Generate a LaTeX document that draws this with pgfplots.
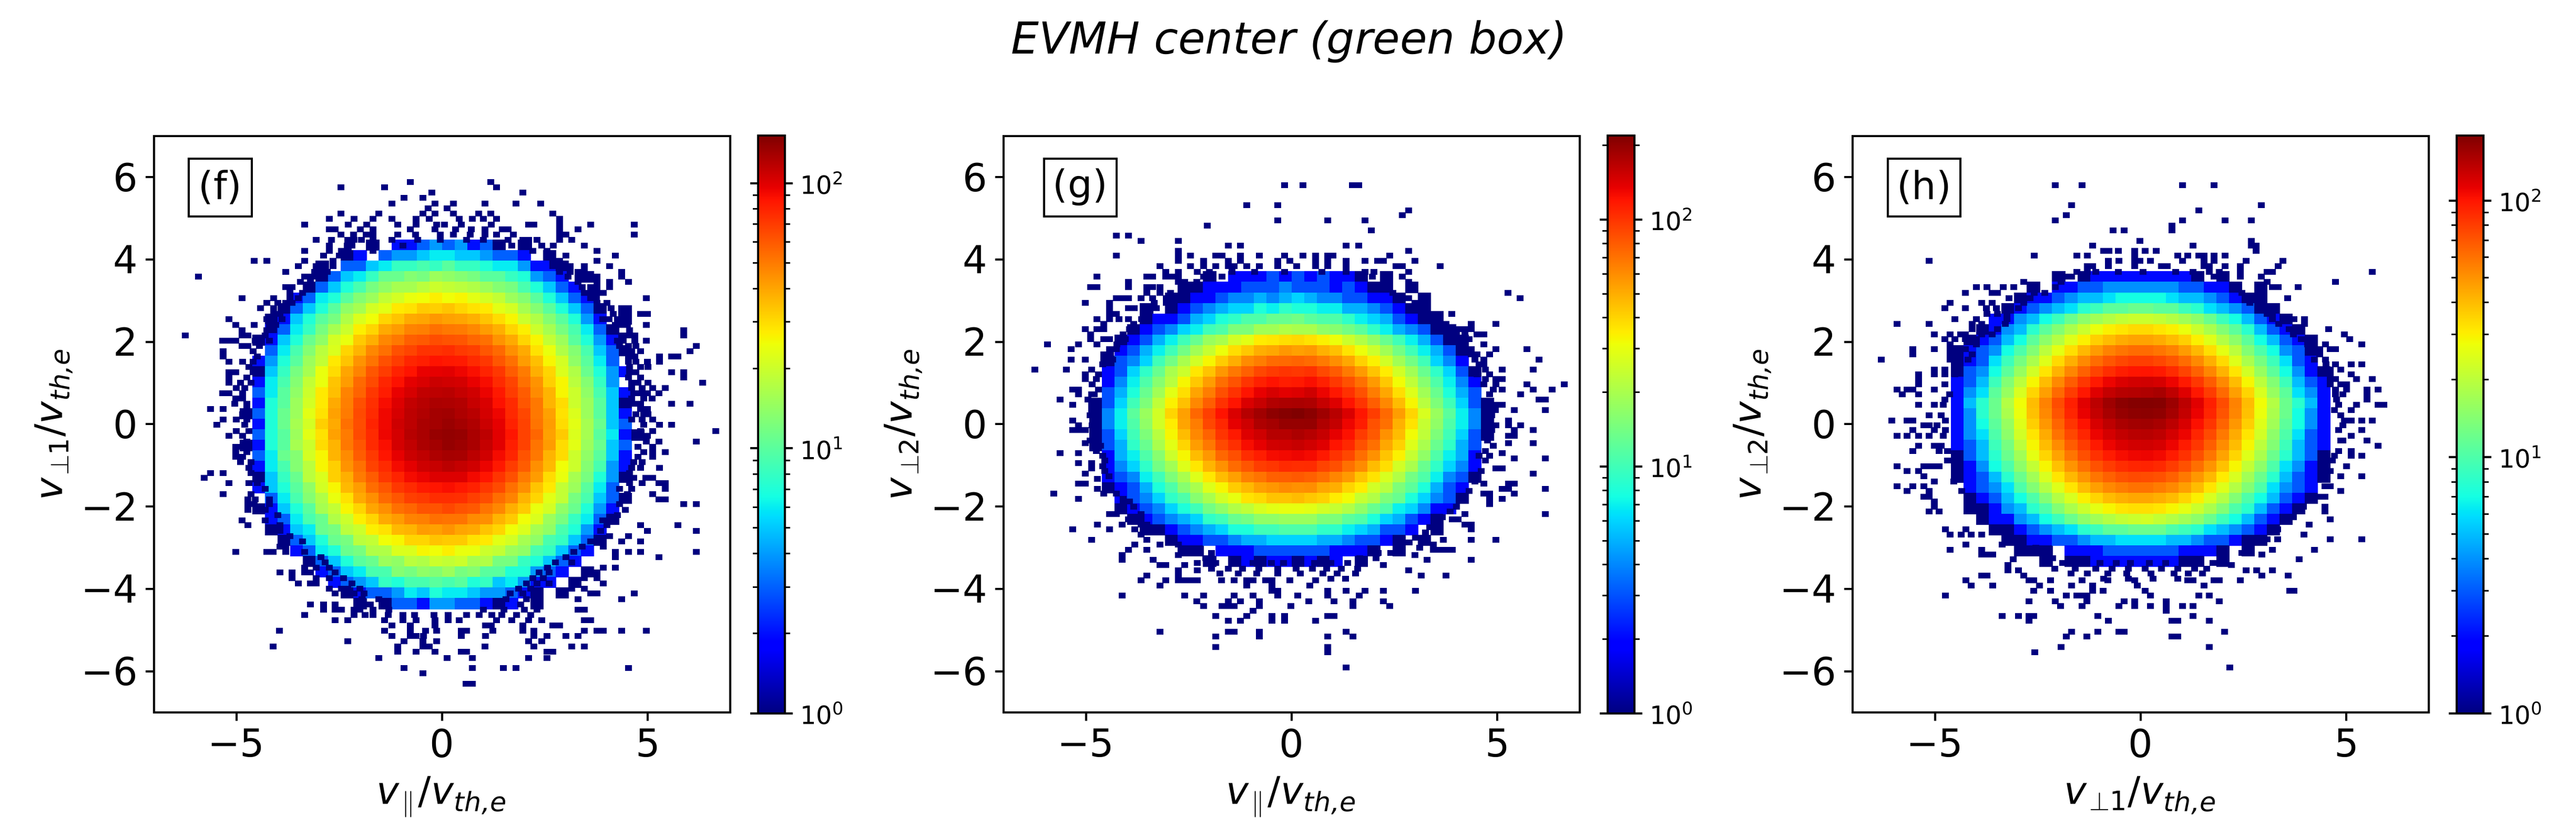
\documentclass[border=0pt]{standalone}
\usepackage{fontspec}
\setmainfont{DejaVu Sans}
\usepackage{pgfplots}
\usepackage{pgfplotstable}
\pgfplotsset{compat=1.18}

\pgfplotsset{
  colormap={mjet}{rgb(0pt)=(0,0,.5); rgb(110pt)=(0,0,1); rgb(125pt)=(0,0,1); rgb(340pt)=(0,.86,1); rgb(350pt)=(0,.9,.97); rgb(375pt)=(.08,1,.89); rgb(640pt)=(.935,1,.03); rgb(650pt)=(.97,.96,0); rgb(660pt)=(1,.926,0); rgb(890pt)=(1,.074,0); rgb(910pt)=(.91,0,0); rgb(1000pt)=(.5,0,0)},
  panel/.style={
    scale only axis, width=263.04pt, height=263.28pt,
    xmin=-7, xmax=7, ymin=-7, ymax=7,
    axis on top, colormap name=mjet,
    xtick={-5,0,5}, xticklabels={−5,0,5},
    ytick={-6,-4,-2,0,2,4,6}, yticklabels={−6,−4,−2,0,2,4,6},
    tick pos=left, tick align=outside, major tick length=3.84pt,
    tick style={black,line width=.96pt},
    axis line style={line width=.96pt},
    tick label style={font=\fontsize{17.6}{20}\selectfont},
    label style={font=\fontsize{17.4}{20}\selectfont},
    every axis x label/.append style={yshift=-1.7pt},
    every axis y label/.append style={yshift=-3pt},
    point meta min=0,
    colorbar,
    colorbar shift/.style={xshift=12.2pt},
  },
  cbar/.style={colorbar style={
    width=12.2pt, height=264pt, yshift=.3pt,
    ytick={0,1,2}, yticklabels={10\textsuperscript{0},10\textsuperscript{1},10\textsuperscript{2}},
    minor ytick={.301,.477,.602,.699,.778,.845,.903,.954,1.301,1.477,1.602,1.699,1.778,1.845,1.903,1.954,2.301},
    tick align=outside, major tick length=3.6pt, minor tick length=2.4pt,
    tick style={black,line width=.96pt},
    minor tick style={black,line width=.72pt},
    axis line style={line width=.96pt},
    yticklabel style={font=\fontsize{11.5}{13}\selectfont},
  }},
  body/.style={scatter, only marks, mark=square*, mark size=2.43pt, scatter src=explicit,
    mark options={xscale=1.2},
    scatter/use mapped color={draw=mapped color,fill=mapped color,line width=.05pt}},
  speck/.style={scatter, only marks, mark=square*, mark size=1.2pt, point meta=0,
    mark options={xscale=1.2},
    scatter/use mapped color={draw=mapped color,fill=mapped color,line width=.05pt}},
}
\newcommand\bodyplot[1]{\pgfplotsinvokeforeach{1,...,32}{%
  \addplot[body] table[x expr={\thisrowno{##1}>0 ? -4.76+0.307*(##1-1) : nan}, y index=0,
    meta expr={log10(max(\thisrowno{##1},1))}] {#1};}}
\newcommand\tagbox[3]{\node[draw=black,line width=.96pt,minimum width=#3,minimum height=26.4pt,inner sep=0pt,
  font=\fontsize{17.6}{20}\selectfont] at (rel axis cs:#2,.911) {#1};}
\newcommand\vpar{\textit{v}\hspace{1pt}\textsubscript{$\parallel$}\hspace{1pt}/\textit{v}\textsubscript{\itshape th,e}}
\newcommand\vperp[1]{\textit{v}\hspace{1pt}\textsubscript{$\perp$#1}/\textit{v}\textsubscript{\itshape th,e}}

% counts per bin on the main body, rows: y, then 32 columns x=-4.76...4.76
\pgfplotstableread[header=false]{
4.352 0 0 0 0 0 0 0 0 0 0 1 0 2 2 3 4 3 4 2 3 1 0 1 0 0 0 0 0 0 0 0 0
4.096 0 0 0 0 0 0 0 0 1 2 0 3 4 4 5 6 6 5 5 4 3 3 2 0 1 0 0 0 0 0 0 0
3.84 0 0 0 0 0 0 1 0 3 3 5 6 8 8 9 8 10 8 8 7 6 6 4 2 2 1 0 0 0 0 0 0
3.584 0 0 0 0 0 0 1 3 5 6 8 11 11 13 12 15 14 13 12 10 10 8 7 4 3 2 0 1 0 0 0 0
3.328 0 0 0 0 0 1 3 5 7 9 12 14 16 16 18 20 19 18 17 15 13 12 9 7 5 3 2 0 0 0 0 0
3.072 0 0 0 0 2 3 6 7 10 13 15 19 21 24 25 27 25 26 23 21 19 15 13 10 7 5 3 2 0 0 0 0
2.816 0 0 0 1 3 5 7 10 14 16 21 23 28 29 33 32 34 31 29 28 23 21 16 13 10 7 5 3 1 0 0 0
2.56 0 0 1 2 5 7 10 12 17 22 25 31 34 39 40 43 41 40 38 34 30 26 20 17 13 10 7 4 2 0 1 0
2.304 0 0 2 3 6 8 12 16 20 27 31 39 42 48 49 53 51 50 47 42 38 31 27 20 16 12 9 6 3 1 0 0
2.048 0 1 2 5 7 11 14 21 24 33 38 47 51 58 60 64 62 61 56 53 44 39 31 26 19 15 10 7 4 2 0 0
1.792 0 0 3 6 9 13 18 22 31 37 47 53 63 67 74 74 76 71 69 61 55 45 39 29 24 17 13 9 5 3 1 0
1.536 0 2 4 7 10 15 19 28 34 44 52 63 70 79 82 87 85 84 77 72 61 53 42 35 26 21 14 10 6 3 0 0
1.28 0 1 5 8 12 16 24 30 40 48 61 70 81 87 96 97 99 94 89 80 72 59 50 38 31 22 17 11 7 4 2 0
1.024 0 2 6 9 13 19 24 34 42 55 65 79 88 98 103 109 107 105 96 90 77 67 53 44 32 26 18 13 8 4 0 0
.768 0 3 6 10 14 20 28 35 48 57 72 83 96 104 114 116 118 112 107 95 85 70 59 46 37 26 20 14 9 5 2 0
.512 0 2 7 10 15 21 28 39 49 63 75 90 101 113 119 125 124 121 111 103 88 77 61 51 37 30 20 15 10 5 1 0
.256 1 3 7 11 15 23 29 41 50 65 77 93 104 116 122 129 131 124 118 105 94 78 66 51 41 29 22 15 10 5 2 0
0 0 2 7 11 16 21 32 39 53 64 80 93 108 116 126 129 135 129 123 109 97 81 68 52 42 30 23 16 11 5 3 0
-.256 0 3 7 10 15 23 29 41 50 65 77 94 105 119 126 136 139 137 126 116 99 86 68 56 41 33 22 16 10 6 2 1
-.512 1 2 7 10 16 20 30 37 51 61 77 89 105 114 125 130 138 133 126 112 99 82 68 52 42 30 23 15 11 5 3 0
-.768 0 3 6 11 13 21 26 37 46 59 71 86 97 109 115 124 128 127 117 107 91 79 62 51 37 30 20 14 10 5 2 0
-1.024 0 2 6 9 13 18 26 32 44 53 68 77 91 98 108 111 117 112 107 95 85 70 59 45 36 25 20 13 9 4 2 0
-1.28 0 1 5 8 11 18 22 32 38 50 59 72 80 91 95 101 101 101 92 86 73 63 50 42 30 24 16 12 7 4 1 0
-1.536 0 2 5 7 10 14 21 26 36 42 54 61 72 77 84 86 89 85 81 72 65 53 45 34 28 19 15 10 6 3 0 0
-1.792 0 0 3 6 9 13 17 24 29 39 45 55 61 69 71 76 76 75 69 64 54 48 37 31 23 19 12 9 5 3 1 0
-2.048 0 1 2 5 7 10 16 19 26 31 40 45 53 56 62 62 66 62 60 52 47 38 33 24 21 14 11 7 4 2 0 0
-2.304 0 0 2 3 6 9 11 17 20 27 31 39 42 48 49 53 52 52 46 45 37 33 25 22 15 12 8 6 3 1 0 0
-2.56 0 0 1 2 5 6 11 12 18 20 27 29 36 37 42 41 44 40 39 34 31 25 22 16 14 9 7 4 2 0 0 0
-2.816 0 0 0 1 3 5 7 11 12 18 19 25 26 31 31 34 33 33 29 28 23 21 16 14 9 8 5 3 1 0 0 0
-3.072 0 0 0 0 2 3 6 7 11 12 17 17 22 22 26 25 27 24 24 20 19 15 14 9 8 5 3 2 0 0 0 0
-3.328 0 0 0 0 0 1 3 5 7 10 11 15 14 18 17 20 19 20 16 17 12 12 8 7 5 3 2 0 0 0 0 0
-3.584 0 0 0 0 0 0 2 3 5 6 9 9 13 12 14 13 15 12 13 10 10 7 7 4 3 2 0 1 0 0 0 0
-3.84 0 0 0 0 0 0 0 2 3 4 5 8 7 9 9 10 9 10 7 8 5 6 4 2 2 0 1 0 0 0 0 0
-4.096 0 0 0 0 0 0 0 0 1 2 3 3 4 6 5 7 6 6 5 4 4 3 2 1 0 1 0 0 0 0 0 0
-4.352 0 0 0 0 0 0 0 0 0 1 0 1 3 3 2 4 4 3 3 2 1 2 0 1 0 0 0 0 0 0 0 0
}\tabf

\pgfplotstableread[header=false]{
3.584 0 0 0 0 0 0 0 0 0 1 0 2 2 2 3 2 3 2 3 2 2 1 0 1 0 0 0 0 0 0 0 0
3.328 0 0 0 0 0 0 0 1 1 2 2 2 3 3 3 4 3 3 3 2 3 2 1 1 0 1 0 0 0 0 0 0
3.072 0 0 0 0 0 0 1 1 2 2 3 4 4 5 4 5 6 5 4 4 3 3 2 2 1 0 1 0 0 0 0 0
2.816 0 0 0 0 1 0 1 2 3 4 5 6 6 8 7 9 8 8 7 7 5 5 4 3 2 1 1 0 0 0 0 0
2.56 0 0 0 0 1 2 2 3 5 6 8 9 11 11 13 13 14 12 11 11 9 7 6 5 3 2 1 1 0 0 0 0
2.304 0 0 0 1 2 3 4 6 7 10 11 15 15 19 19 21 20 20 17 16 14 12 9 7 5 4 3 1 1 0 0 0
2.048 0 0 1 2 3 5 7 10 13 18 20 26 29 35 36 38 39 37 34 31 25 21 17 13 10 7 5 3 1 1 0 0
1.792 0 0 2 3 5 7 10 14 19 24 31 38 43 50 52 57 54 56 49 45 37 31 25 19 14 10 7 5 3 1 0 0
1.536 0 1 3 4 6 10 14 20 26 33 42 50 61 66 73 74 76 73 67 60 52 41 34 26 19 14 10 6 4 2 0 0
1.28 0 2 3 6 9 13 20 25 36 44 57 68 78 90 96 100 98 101 89 80 67 56 44 35 26 19 13 9 6 3 1 0
1.024 0 2 4 7 11 16 22 33 43 55 72 84 100 112 121 114 117 124 112 98 85 71 56 43 32 23 16 11 7 4 2 0
.768 0 3 5 8 13 19 29 38 53 66 86 101 120 135 146 138 142 151 132 118 102 85 66 52 38 28 19 13 8 5 3 0
.512 1 3 6 10 15 23 34 45 62 79 102 120 144 157 173 178 180 176 158 141 121 100 79 62 46 33 22 15 10 6 3 1
.256 1 4 7 12 18 26 40 54 75 94 121 144 170 187 205 212 219 207 189 168 144 119 95 74 55 40 27 18 12 7 4 1
0 1 4 7 11 17 26 35 53 66 90 108 136 152 176 184 197 197 198 175 159 131 114 85 71 49 37 24 17 11 7 4 1
-.256 1 3 6 10 15 22 33 46 62 77 100 117 141 152 170 170 178 170 158 136 122 96 81 59 46 32 23 15 10 6 3 1
-.512 1 3 5 9 13 20 29 40 55 68 89 103 125 136 150 152 157 150 140 120 107 85 71 52 41 28 20 13 9 5 3 0
-.768 0 2 5 7 11 16 25 33 46 57 75 86 105 114 126 128 131 127 117 101 90 72 59 44 34 24 17 11 7 5 2 0
-1.024 0 2 4 6 9 14 19 28 36 48 59 73 83 95 99 106 104 105 92 86 71 61 46 38 26 20 13 9 6 4 2 0
-1.28 0 2 3 4 7 10 15 20 28 36 46 54 65 70 78 79 81 78 72 63 56 44 37 27 21 14 11 7 4 3 1 0
-1.536 0 1 2 3 5 8 11 16 20 28 33 42 47 54 57 61 59 60 52 50 40 35 26 22 15 12 8 5 3 2 0 0
-1.792 0 0 2 3 4 6 9 11 16 20 26 30 37 39 44 44 46 43 41 35 32 24 21 15 13 8 6 4 3 1 0 0
-2.048 0 0 1 2 3 4 6 8 10 14 17 21 23 27 29 30 30 29 26 24 21 17 13 11 7 6 4 2 2 0 0 0
-2.304 0 0 0 1 2 3 4 5 6 9 10 13 14 17 17 18 18 18 15 15 12 11 8 6 5 3 2 1 0 0 0 0
-2.56 0 0 0 0 1 1 2 3 4 5 6 8 8 10 10 11 11 11 9 9 7 6 5 3 3 2 0 1 0 0 0 0
-2.816 0 0 0 0 0 0 1 2 2 3 3 4 5 5 6 6 6 6 5 5 4 3 3 2 1 0 1 0 0 0 0 0
-3.072 0 0 0 0 0 0 0 1 1 0 2 2 2 3 3 3 3 3 3 2 2 2 1 0 1 0 0 0 0 0 0 0
-3.328 0 0 0 0 0 0 0 0 0 1 0 1 2 1 2 2 1 2 1 2 0 1 0 0 0 0 0 0 0 0 0 0
}\tabg

\pgfplotstableread[header=false]{
3.584 0 0 0 0 0 0 0 0 0 1 0 1 2 2 2 2 2 2 2 2 1 0 1 0 0 0 0 0 0 0 0 0
3.328 0 0 0 0 0 0 0 1 0 2 2 3 3 4 4 4 4 4 4 3 3 2 2 1 0 1 0 0 0 0 0 0
3.072 0 0 0 0 0 0 1 2 2 3 4 5 5 6 7 7 7 7 6 5 5 4 3 2 1 1 0 0 0 0 0 0
2.816 0 0 0 0 0 1 2 3 4 5 6 8 9 11 11 12 12 11 11 9 8 6 5 4 3 1 1 0 0 0 0 0
2.56 0 0 0 0 2 2 4 5 7 9 12 15 17 19 21 22 22 21 19 17 15 12 9 7 5 3 2 1 0 0 0 0
2.304 0 0 0 1 2 4 5 8 11 14 18 22 27 30 32 34 34 32 30 27 22 18 14 11 8 5 3 2 1 0 0 0
2.048 0 0 1 2 3 5 7 11 15 19 25 30 36 40 44 46 46 44 40 36 30 25 19 15 11 7 5 3 2 1 0 0
1.792 0 1 2 3 4 7 10 14 20 26 33 41 48 55 59 62 62 59 55 48 41 33 26 20 14 10 7 4 3 1 0 0
1.536 0 1 2 3 6 9 13 18 25 34 43 53 62 70 76 80 80 76 70 62 53 43 34 25 18 13 9 6 3 2 0 0
1.28 0 1 3 4 7 11 16 23 32 42 54 66 78 88 96 100 101 98 89 78 66 54 42 32 23 16 11 7 4 2 1 0
1.024 0 2 3 5 9 14 20 29 40 53 68 83 98 110 119 124 125 122 110 98 83 68 53 40 29 20 14 9 5 3 2 0
.768 0 2 4 6 11 16 24 35 47 63 81 99 117 132 140 142 145 150 135 117 99 81 63 47 35 24 16 11 6 4 2 0
.512 0 2 5 8 12 19 28 40 55 74 95 116 137 156 170 175 176 174 158 137 116 95 74 55 40 28 19 12 8 5 2 0
.256 0 2 4 8 12 18 27 39 53 71 92 112 132 150 162 168 170 167 152 132 111 92 71 54 39 27 18 12 7 4 2 0
0 0 2 4 7 11 16 25 36 49 65 84 102 121 136 148 153 155 150 137 121 103 84 65 49 36 25 17 11 7 4 2 0
-.256 0 2 4 6 10 15 23 32 44 60 76 92 110 123 133 139 140 136 123 110 92 75 58 44 32 23 15 10 6 3 2 0
-.512 0 2 3 5 9 13 20 29 40 52 68 82 98 110 119 124 125 122 110 97 83 67 52 40 29 20 14 9 5 3 2 0
-.768 0 1 3 5 8 12 17 26 35 46 59 73 86 97 105 109 110 107 97 86 73 59 46 35 25 18 12 8 5 3 1 0
-1.024 0 1 2 4 7 10 15 21 29 39 50 61 72 81 88 92 93 90 81 72 61 50 39 29 21 15 10 6 4 2 1 0
-1.28 0 1 2 3 5 8 12 17 24 32 41 50 59 66 72 75 74 72 66 58 49 41 31 24 17 12 8 5 3 2 1 0
-1.536 0 0 2 3 4 6 10 14 19 25 32 40 47 53 57 60 60 57 53 47 40 32 25 19 14 10 6 4 3 2 0 0
-1.792 0 0 1 2 3 5 7 10 14 19 24 30 35 40 43 45 45 43 40 35 30 24 19 14 10 7 5 3 2 1 0 0
-2.048 0 0 1 1 2 4 5 8 10 14 18 22 26 29 32 33 33 32 29 26 22 18 14 10 8 5 3 2 1 0 0 0
-2.304 0 0 0 1 2 2 4 5 7 9 12 15 17 19 21 22 23 21 19 17 15 12 9 7 5 3 2 1 0 0 0 0
-2.56 0 0 0 0 1 1 2 3 4 5 6 8 9 11 11 12 12 12 10 9 8 6 5 4 3 2 1 0 0 0 0 0
-2.816 0 0 0 0 0 1 1 2 2 3 3 4 5 5 6 6 6 6 5 5 4 3 3 2 1 1 0 0 0 0 0 0
-3.072 0 0 0 0 0 0 1 1 1 0 2 2 2 3 3 3 3 3 3 2 2 2 1 0 1 0 0 0 0 0 0 0
-3.328 0 0 0 0 0 0 0 0 1 0 1 1 2 2 2 2 2 2 2 1 1 0 1 0 0 0 0 0 0 0 0 0
}\tabh

\pgfplotstableread{
-.78 5.89
1.18 5.89
-2.46 5.76
-1.40 5.76
1.32 5.76
-.25 5.63
1.95 5.63
-.93 5.50
-.47 5.50
-1.23 5.37
-.18 5.37
.27 5.37
1.03 5.37
1.79 5.37
2.39 5.37
-.34 5.25
.12 5.25
-2.46 5.12
-1.54 5.12
-.47 5.12
-.18 5.12
.27 5.12
.88 5.12
1.18 5.12
2.69 5.12
-2.75 4.99
-2.15 4.99
-1.69 4.99
-1.23 4.99
-.64 4.99
-.32 4.99
.41 4.99
.73 4.99
1.0 4.99
1.32 4.99
2.85 4.99
-3.34 4.86
-2.29 4.86
-1.84 4.86
-1.09 4.86
-.64 4.86
-.14 4.86
.05 4.86
.46 4.86
1.19 4.86
2.10 4.86
2.23 4.86
2.85 4.86
3.61 4.86
4.67 4.86
-2.75 4.74
-2.6 4.74
-1.99 4.74
-1.69 4.74
-.78 4.74
-.18 4.74
.32 4.74
.7 4.74
1.03 4.74
1.46 4.74
1.6 4.74
2.85 4.74
3.3 4.74
-2.46 4.61
-2.16 4.61
-1.85 4.61
-1.69 4.61
-1.09 4.61
-.65 4.61
-.05 4.61
.27 4.61
.68 4.61
1.03 4.61
1.32 4.61
1.73 4.61
2.85 4.61
3.0 4.61
4.67 4.61
-3.06 4.48
-2.69 4.48
-2.3 4.48
-2.15 4.48
-1.96 4.48
-1.69 4.48
-1.23 4.48
-.6 4.48
-.05 4.48
.59 4.48
1.0 4.48
1.6 4.48
1.96 4.48
2.1 4.48
2.3 4.48
2.85 4.48
3.15 4.48
-2.75 4.35
-2.31 4.35
-2.2 4.35
-1.69 4.35
-.96 4.35
1.69 4.35
2.10 4.35
2.42 4.35
2.7 4.35
3.45 4.35
-3.34 4.22
-2.75 4.22
-2.45 4.22
-2.29 4.22
-1.69 4.22
2.2 4.22
2.54 4.22
3.76 4.22
-2.89 4.10
-2.5 4.10
-2.35 4.10
2.55 4.10
3.0 4.10
4.21 4.10
-4.57 3.97
-4.27 3.97
-3.34 3.97
-2.65 3.97
2.69 3.97
2.85 3.97
3.76 3.97
-3.5 3.84
-3.06 3.84
-2.65 3.84
2.69 3.84
2.85 3.84
3.1 3.84
3.45 3.84
4.06 3.84
-3.81 3.71
-3.1 3.71
-2.8 3.71
2.85 3.71
3.1 3.71
3.3 3.71
3.45 3.71
4.36 3.71
-5.93 3.59
-3.34 3.59
-3.2 3.59
-3.05 3.59
3.05 3.59
3.3 3.59
3.76 3.59
4.36 3.59
-3.45 3.46
-3.2 3.46
3.3 3.46
3.76 3.46
4.06 3.46
4.52 3.46
-3.81 3.33
-3.65 3.33
-3.3 3.33
3.4 3.33
3.6 3.33
3.76 3.33
4.06 3.33
-3.7 3.20
-3.4 3.20
3.45 3.20
3.61 3.20
3.76 3.20
3.91 3.20
-4.87 3.07
-4.1 3.07
-3.7 3.07
-3.5 3.07
3.61 3.07
3.75 3.07
4.96 3.07
-4.27 2.95
-4.0 2.95
-3.81 2.95
-3.65 2.95
3.76 2.95
4.0 2.95
-4.42 2.82
-4.1 2.82
-3.81 2.82
3.91 2.82
4.1 2.82
4.36 2.82
4.52 2.82
-4.1 2.69
-3.95 2.69
4.15 2.69
4.36 2.69
4.52 2.69
4.82 2.69
4.98 2.69
-5.18 2.56
-4.27 2.56
-4.1 2.56
-3.9 2.56
3.9 2.56
4.05 2.56
4.25 2.56
-5.02 2.42
-4.57 2.42
-4.2 2.42
-4.05 2.42
4.21 2.42
4.35 2.42
4.5 2.42
4.96 2.42
-4.87 2.29
-4.27 2.29
-4.1 2.29
4.1 2.29
4.55 2.29
5.87 2.29
-6.24 2.16
-4.87 2.16
-4.72 2.16
-4.3 2.16
4.36 2.16
4.52 2.16
4.68 2.16
5.87 2.16
-5.34 2.03
-5.18 2.03
-5.02 2.03
-4.55 2.03
-4.2 2.03
4.25 2.03
4.4 2.03
4.68 2.03
4.96 2.03
-4.87 1.91
-4.72 1.91
-4.45 1.91
4.3 1.91
4.52 1.91
4.7 1.91
6.17 1.91
-5.32 1.78
-4.6 1.78
4.45 1.78
4.6 1.78
4.82 1.78
6.02 1.78
-5.32 1.65
-4.5 1.65
4.52 1.65
4.68 1.65
5.28 1.65
5.57 1.65
5.72 1.65
-5.18 1.52
-4.85 1.52
-4.6 1.52
4.52 1.52
4.7 1.52
4.98 1.52
5.28 1.52
-4.7 1.40
4.55 1.40
4.82 1.40
5.0 1.40
-5.18 1.27
-5.02 1.27
-4.6 1.27
4.55 1.27
4.7 1.27
5.57 1.27
5.87 1.27
-5.18 1.14
-4.75 1.14
4.52 1.14
4.82 1.14
5.87 1.14
-5.18 1.01
-4.9 1.01
-4.65 1.01
4.6 1.01
4.75 1.01
5.0 1.01
6.33 1.01
-5.0 .89
-4.8 .89
4.6 .89
4.85 .89
5.11 .89
5.42 .89
-5.34 .76
-5.18 .76
-4.85 .76
4.65 .76
4.82 .76
4.98 .76
5.26 .76
-5.02 .63
-4.85 .63
4.6 .63
4.9 .63
5.1 .63
-5.05 .50
-4.75 .50
4.65 .50
4.82 .50
5.57 .50
6.02 .50
-5.63 .37
-5.32 .37
-4.75 .37
4.82 .37
4.98 .37
-4.85 .25
-4.7 .25
4.7 .25
4.9 .25
5.0 .25
-5.32 .12
-5.0 .12
-4.75 .12
4.6 .12
4.85 .12
5.11 .12
-5.48 -.01
-4.8 -.01
4.9 -.01
5.28 -.01
5.57 -.01
6.64 -.16
-5.0 -.16
-4.7 -.16
4.82 -.16
5.11 -.16
-5.18 -.28
-4.85 -.28
4.75 -.28
4.98 -.28
-4.75 -.41
4.96 -.41
5.26 -.41
6.17 -.41
-5.02 -.54
-4.85 -.54
4.75 -.54
5.11 -.54
-5.02 -.67
-4.75 -.67
4.9 -.67
5.11 -.67
5.42 -.67
-5.02 -.79
-4.85 -.79
4.75 -.79
5.11 -.79
-4.9 -.92
-4.65 -.92
4.65 -.92
4.85 -.92
-4.7 -1.05
4.6 -1.05
4.82 -1.05
5.28 -1.05
-5.63 -1.18
-5.32 -1.18
-4.65 -1.18
4.55 -1.18
-5.78 -1.30
-4.5 -1.30
4.65 -1.30
4.95 -1.30
5.11 -1.30
-5.18 -1.43
-4.7 -1.43
-4.5 -1.43
4.55 -1.43
4.85 -1.43
5.26 -1.43
5.42 -1.43
-4.3 -1.56
4.3 -1.56
4.6 -1.56
5.42 -1.56
-5.32 -1.69
-4.65 -1.69
4.5 -1.69
5.11 -1.69
-4.72 -1.82
-4.55 -1.82
-4.2 -1.82
4.45 -1.82
5.26 -1.82
5.42 -1.82
-4.72 -1.94
-4.57 -1.94
-4.2 -1.94
4.3 -1.94
5.87 -1.94
6.17 -1.94
-4.72 -2.07
-4.3 -2.07
4.45 -2.07
-4.0 -2.20
4.25 -2.20
-4.87 -2.33
-4.3 -2.33
3.9 -2.33
-4.72 -2.45
-3.95 -2.45
4.0 -2.45
4.82 -2.45
5.72 -2.45
-3.95 -2.58
3.85 -2.58
4.98 -2.58
6.17 -2.58
-3.7 -2.71
4.06 -2.71
4.52 -2.71
-3.4 -2.84
3.6 -2.84
4.36 -2.84
4.82 -2.84
-3.95 -2.97
-3.81 -2.97
3.4 -2.97
3.91 -2.97
-5.02 -3.09
-4.27 -3.09
-4.11 -3.09
-3.81 -3.09
-3.35 -3.09
3.2 -3.09
4.21 -3.09
4.52 -3.09
4.82 -3.09
6.17 -3.09
-2.95 -3.22
3.0 -3.22
4.21 -3.22
5.26 -3.22
-2.85 -3.35
2.75 -3.35
3.15 -3.35
-3.35 -3.48
-3.06 -3.48
-2.75 -3.48
2.55 -3.48
3.91 -3.48
4.21 -3.48
-3.95 -3.60
-3.65 -3.60
-3.35 -3.60
-3.2 -3.60
-2.6 -3.60
2.35 -3.60
2.6 -3.60
3.76 -3.60
-3.65 -3.73
-3.06 -3.73
-2.75 -3.73
-2.4 -3.73
2.2 -3.73
2.45 -3.73
3.45 -3.73
3.76 -3.73
-3.5 -3.86
-3.2 -3.86
-3.06 -3.86
-2.2 -3.86
2.05 -3.86
2.3 -3.86
2.6 -3.86
3.91 -3.86
-2.75 -3.99
-2.45 -3.99
-2.3 -3.99
-2.0 -3.99
1.85 -3.99
2.15 -3.99
3.15 -3.99
3.45 -3.99
-2.6 -4.11
-2.15 -4.11
-1.9 -4.11
1.65 -4.11
1.95 -4.11
2.25 -4.11
3.61 -4.11
3.76 -4.11
4.67 -4.11
-1.95 -4.24
-1.55 -4.24
1.55 -4.24
2.05 -4.24
3.3 -4.24
4.36 -4.24
-3.2 -4.37
-2.89 -4.37
-2.6 -4.37
-1.75 -4.37
-1.4 -4.37
1.4 -4.37
1.9 -4.37
2.25 -4.37
-2.89 -4.50
-2.6 -4.50
-2.45 -4.50
-2.15 -4.50
-2.0 -4.50
-1.69 -4.50
-1.3 -4.50
1.0 -4.50
1.5 -4.50
2.0 -4.50
2.3 -4.50
3.3 -4.50
3.45 -4.50
-3.35 -4.63
-2.15 -4.63
-1.87 -4.63
-1.69 -4.63
-1.32 -4.63
-.96 -4.63
-.68 -4.63
-.2 -4.63
.14 -4.63
.59 -4.63
.9 -4.63
1.2 -4.63
1.45 -4.63
1.8 -4.63
2.15 -4.63
-2.6 -4.75
-2.3 -4.75
-1.4 -4.75
-.96 -4.75
-.64 -4.75
-.18 -4.75
.14 -4.75
.41 -4.75
1.32 -4.75
1.69 -4.75
2.1 -4.75
2.42 -4.75
3.45 -4.75
3.61 -4.75
-1.23 -4.88
-.78 -4.88
-.18 -4.88
1.05 -4.88
1.19 -4.88
1.96 -4.88
2.69 -4.88
2.85 -4.88
-3.96 -5.01
-1.4 -5.01
-.78 -5.01
-.41 -5.01
-.14 -5.01
.46 -5.01
.59 -5.01
1.23 -5.01
1.96 -5.01
2.23 -5.01
3.45 -5.01
3.76 -5.01
3.91 -5.01
4.36 -5.01
4.96 -5.01
-1.23 -5.14
-.78 -5.14
-.64 -5.14
-.46 -5.14
.46 -5.14
1.05 -5.14
2.23 -5.14
2.54 -5.14
3.0 -5.14
3.3 -5.14
-2.3 -5.26
-.93 -5.26
-.47 -5.26
-.14 -5.26
2.1 -5.26
2.42 -5.26
-4.11 -5.39
-1.09 -5.39
-.47 -5.39
-.32 -5.39
1.03 -5.39
2.23 -5.39
3.15 -5.39
3.45 -5.39
-1.09 -5.52
-.64 -5.52
-.18 -5.52
.46 -5.52
.59 -5.52
2.54 -5.52
2.69 -5.52
-1.54 -5.67
.12 -5.67
.73 -5.67
2.1 -5.67
2.54 -5.67
-.93 -5.92
.73 -5.92
1.48 -5.92
1.79 -5.92
4.52 -5.92
-.47 -6.05
.58 -6.30
.73 -6.30
}\specf

\pgfplotstableread{
-.18 5.81
.27 5.81
1.47 5.81
1.62 5.81
-1.10 5.33
-.34 5.33
2.84 5.20
2.69 5.08
-.34 4.95
.87 4.95
1.78 4.95
-2.05 4.83
1.93 4.71
-4.27 4.58
-3.97 4.58
-3.67 4.46
-2.76 4.46
-1.55 4.34
-1.25 4.34
1.32 4.34
1.62 4.34
-2.76 4.22
2.84 4.22
-4.27 4.10
-2.76 4.10
-2.46 4.10
-1.85 4.10
-1.70 4.10
-1.25 4.10
-.79 4.10
-.18 4.10
.27 4.10
.57 4.10
.87 4.10
1.0 4.10
2.38 4.10
-2.76 3.97
-2.15 3.97
-1.55 3.97
-1.25 3.97
-.34 3.97
-.05 3.97
.57 3.97
.87 3.97
1.32 3.97
1.78 3.97
2.08 3.97
2.23 3.97
2.99 3.97
-3.21 3.84
-2.46 3.84
-2.15 3.84
-1.85 3.84
-1.55 3.84
-1.40 3.84
-1.10 3.84
-.79 3.84
-.34 3.84
.11 3.84
.57 3.84
.87 3.84
1.32 3.84
2.53 3.84
2.69 3.84
3.60 3.84
-3.06 3.71
-2.76 3.71
-2.30 3.71
-2.0 3.71
-1.46 3.71
-.91 3.71
-.18 3.71
.73 3.71
1.32 3.71
1.78 3.71
2.0 3.71
2.84 3.71
-4.74 3.59
-3.52 3.59
-3.39 3.59
-3.06 3.59
-2.92 3.59
-2.76 3.59
-2.15 3.59
-1.7 3.59
1.95 3.59
2.38 3.59
2.69 3.59
-3.97 3.46
-2.76 3.46
-2.6 3.46
-2.31 3.46
2.38 3.46
2.84 3.46
-4.89 3.33
-4.74 3.33
-3.97 3.33
-3.52 3.33
-3.39 3.33
-3.2 3.33
-2.65 3.33
2.38 3.33
2.84 3.33
-3.52 3.20
-3.2 3.20
-2.95 3.20
2.45 3.20
5.25 3.20
-4.27 3.07
-4.11 3.07
-3.97 3.07
-3.67 3.07
-3.39 3.07
-3.05 3.07
2.84 3.07
3.14 3.07
5.55 3.07
-5.02 2.95
-4.43 2.95
-3.35 2.95
-3.05 2.95
2.99 2.95
3.15 2.95
-4.43 2.82
-3.97 2.82
-3.83 2.82
-3.52 2.82
-3.3 2.82
3.14 2.82
3.29 2.82
-4.43 2.69
-4.27 2.69
-3.6 2.69
3.44 2.69
3.60 2.69
3.89 2.69
-4.74 2.56
-4.43 2.56
-4.2 2.56
-3.97 2.56
-3.65 2.56
3.5 2.56
-4.57 2.44
-3.85 2.44
3.74 2.44
4.36 2.44
4.96 2.44
-5.02 2.32
-4.74 2.32
-4.57 2.32
-3.95 2.32
3.85 2.32
4.04 2.32
4.2 2.32
4.36 2.32
-4.89 2.19
-4.1 2.19
4.0 2.19
4.2 2.19
4.5 2.19
4.66 2.19
-4.89 2.07
-4.57 2.07
-4.43 2.07
-4.05 2.07
3.89 2.07
4.04 2.07
4.3 2.07
-5.94 1.95
-5.19 1.95
-4.74 1.95
-4.25 1.95
4.2 1.95
4.66 1.95
-5.37 1.83
-4.43 1.83
-4.27 1.83
4.36 1.83
4.96 1.83
5.71 1.83
-4.57 1.70
-4.4 1.70
4.36 1.70
4.5 1.70
4.8 1.70
-5.37 1.58
-5.02 1.58
-4.57 1.58
-4.35 1.58
4.45 1.58
4.66 1.58
6.0 1.58
-4.6 1.46
4.55 1.46
4.66 1.46
-6.24 1.33
-5.48 1.33
-4.87 1.33
4.7 1.33
5.11 1.33
5.86 1.33
-5.02 1.22
-4.7 1.22
4.5 1.22
4.8 1.22
-5.02 1.10
-4.75 1.10
4.7 1.10
4.96 1.10
5.11 1.10
-4.85 .98
4.66 .98
4.96 .98
5.71 .98
6.62 .98
-5.33 .85
-5.19 .85
-4.7 .85
4.9 .85
5.11 .85
5.86 .85
6.32 .85
-5.19 .73
-4.87 .73
-4.8 .73
4.8 .73
5.56 .73
-5.63 .60
-4.95 .60
6.0 .60
6.16 .60
-5.33 .48
-4.87 .48
4.96 .48
5.11 .48
-4.87 .35
4.95 .35
5.41 .35
6.16 .35
-4.9 .22
4.85 .22
-5.33 .10
4.8 .10
5.27 .10
-5.19 -.02
-4.85 -.02
4.96 -.02
5.27 -.02
5.56 -.02
-5.33 -.14
-5.19 -.14
-5.02 -.14
4.85 -.14
5.41 -.14
5.86 -.14
4.8 -.27
5.27 -.27
5.41 -.27
-4.9 -.39
-5.02 -.45
-4.73 -.45
4.75 -.39
5.27 -.45
5.86 -.45
-4.65 -.52
4.9 -.52
-5.63 -.70
-5.19 -.70
-4.75 -.64
4.7 -.64
5.11 -.70
-4.6 -.76
4.55 -.76
4.8 -.76
5.41 -.82
6.16 -.82
-5.19 -.94
-4.87 -.94
-4.55 -.88
4.7 -.88
-4.87 -1.07
-4.6 -1.01
4.96 -1.07
5.11 -1.07
-5.02 -1.19
-4.55 -1.13
4.6 -1.13
5.86 -1.19
-4.73 -1.32
-4.45 -1.26
-5.19 -1.44
-5.02 -1.44
4.45 -1.38
4.66 -1.44
5.27 -1.44
5.41 -1.44
-4.73 -1.56
-4.4 -1.50
5.11 -1.56
5.27 -1.56
6.16 -1.56
-5.78 -1.68
-4.57 -1.68
-4.27 -1.68
4.3 -1.62
4.66 -1.68
4.8 -1.68
5.41 -1.68
-5.19 -1.81
-4.1 -1.81
4.2 -1.75
4.8 -1.81
5.11 -1.81
-4.1 -1.93
-3.95 -1.87
4.8 -1.93
-3.85 -2.0
4.0 -2.0
-4.43 -2.18
-4.27 -2.18
-3.67 -2.18
3.85 -2.12
4.2 -2.18
6.16 -2.18
-3.97 -2.3
-3.67 -2.3
3.65 -2.25
3.9 -2.3
4.04 -2.3
-4.73 -2.43
-4.13 -2.43
-3.67 -2.43
-3.52 -2.43
3.5 -2.37
4.2 -2.43
4.36 -2.43
-5.33 -2.55
-4.43 -2.55
-3.82 -2.55
3.35 -2.5
4.36 -2.55
-3.67 -2.68
3.25 -2.62
-4.87 -2.8
-3.52 -2.8
-2.9 -2.75
3.0 -2.75
3.68 -2.8
4.36 -2.8
4.96 -2.8
-3.82 -2.92
-3.21 -2.92
-2.76 -2.92
2.85 -2.87
3.44 -2.92
-3.97 -3.04
-3.52 -3.04
-2.6 -3.04
2.55 -3.0
3.1 -3.0
3.44 -3.04
3.6 -3.04
3.74 -3.04
3.9 -3.04
-4.13 -3.17
-2.76 -3.17
-2.35 -3.12
-1.95 -3.12
2.1 -3.12
2.4 -3.12
2.99 -3.17
-4.13 -3.29
-3.37 -3.29
-2.1 -3.25
1.65 -3.25
2.05 -3.25
3.29 -3.29
4.36 -3.29
-3.21 -3.42
-3.06 -3.42
-2.6 -3.42
-2.3 -3.37
-1.85 -3.37
-1.4 -3.37
-.95 -3.37
-.5 -3.37
-.2 -3.37
.2 -3.37
.55 -3.37
.95 -3.37
1.35 -3.37
1.7 -3.37
2.23 -3.42
-2.76 -3.54
-2.3 -3.54
-1.95 -3.5
-1.55 -3.5
-1.2 -3.5
-.8 -3.5
-.35 -3.5
.1 -3.5
.5 -3.5
.85 -3.5
1.2 -3.5
1.6 -3.5
2.84 -3.54
-3.52 -3.67
-2.76 -3.67
-1.75 -3.62
-1.3 -3.62
-.85 -3.62
-.35 -3.62
.2 -3.62
.75 -3.62
1.1 -3.62
1.55 -3.62
3.14 -3.67
3.75 -3.67
-3.67 -3.79
-3.06 -3.79
-2.76 -3.79
-2.6 -3.79
-2.46 -3.79
-2.3 -3.79
-1.71 -3.79
-1.4 -3.79
-1.1 -3.79
-.94 -3.79
-.64 -3.79
-.48 -3.79
-.05 -3.79
.57 -3.79
.95 -3.75
1.3 -3.75
-3.21 -3.91
-1.1 -3.91
-.48 -3.91
.43 -3.91
-.48 -4.04
-.35 -4.04
.87 -4.04
1.32 -4.04
1.78 -4.04
2.23 -4.04
3.0 -4.04
-4.13 -4.16
-2.61 -4.16
-2.15 -4.16
-1.4 -4.16
-.94 -4.16
-.35 -4.16
.14 -4.16
.87 -4.16
1.63 -4.16
-2.31 -4.29
-1.55 -4.29
-1.25 -4.29
-.79 -4.29
.41 -4.29
1.02 -4.29
1.48 -4.29
2.23 -4.29
-2.15 -4.41
-1.7 -4.41
-1.55 -4.41
-1.4 -4.41
-.79 -4.41
-.03 -4.41
1.48 -4.41
2.38 -4.41
-.94 -4.53
-1.85 -4.65
-1.1 -4.65
-.48 -4.65
-.18 -4.65
.87 -4.65
1.02 -4.65
-1.55 -4.77
-1.25 -4.77
-.48 -4.77
-.18 -4.77
.57 -4.77
-3.21 -5.03
-1.55 -5.03
-1.4 -5.03
-.79 -5.03
1.32 -5.03
-1.85 -5.15
-.79 -5.15
.87 -5.15
1.48 -5.15
-1.85 -5.4
.87 -5.4
.87 -5.53
1.32 -5.9
}\specg

\pgfplotstableread{
-2.08 5.81
-1.43 5.81
1.01 5.81
1.78 5.81
-1.69 5.33
2.93 5.33
1.40 5.20
-1.81 5.08
-2.08 4.95
1.01 4.95
2.04 4.95
2.68 4.95
.76 4.83
-.67 4.71
-.41 4.71
.76 4.71
-.03 4.46
2.68 4.46
-1.18 4.34
1.27 4.34
2.68 4.34
2.8 4.34
-.91 4.22
-.78 4.22
-.55 4.22
-.15 4.22
.1 4.22
.37 4.22
2.8 4.22
-2.59 4.10
-1.56 4.10
-1.3 4.10
-.15 4.10
.89 4.10
1.14 4.10
1.4 4.10
1.53 4.10
1.78 4.10
2.04 4.10
-5.15 3.97
-.79 3.97
-.54 3.97
-.15 3.97
-.03 3.97
.23 3.97
1.01 3.97
1.53 3.97
1.78 3.97
2.55 3.97
3.45 3.97
-1.3 3.84
-1.18 3.84
-.79 3.84
-.15 3.84
.5 3.84
.64 3.84
1.53 3.84
1.66 3.84
2.04 3.84
2.42 3.84
3.33 3.84
-1.56 3.71
-1.3 3.71
-1.1 3.71
-.55 3.71
.05 3.71
.85 3.71
1.27 3.71
1.66 3.71
1.91 3.71
2.42 3.71
3.07 3.71
3.2 3.71
5.62 3.71
-1.81 3.59
-1.69 3.59
-1.4 3.59
1.78 3.59
2.42 3.59
2.93 3.59
-2.85 3.46
-1.94 3.46
3.07 3.46
4.73 3.46
-4.0 3.33
-3.74 3.33
-3.35 3.33
-3.09 3.33
-2.08 3.33
3.2 3.33
3.33 3.33
3.82 3.33
-4.26 3.2
-3.62 3.2
-3.49 3.2
-2.59 3.2
-2.34 3.2
2.45 3.2
-3.2 3.07
-2.69 3.07
2.6 3.07
2.8 3.07
3.57 3.07
-4.64 2.95
-3.87 2.95
-3.62 2.95
-2.85 2.95
2.65 2.95
2.94 2.95
-4.77 2.82
-4.26 2.82
-3.76 2.82
-3.51 2.82
-3.25 2.82
-2.98 2.82
2.85 2.82
3.07 2.82
-3.74 2.69
-3.49 2.69
-3.25 2.69
3.07 2.69
3.2 2.69
-4.52 2.56
-4.0 2.56
-3.25 2.56
3.2 2.56
3.46 2.56
3.72 2.56
3.97 2.56
-5.93 2.44
-5.15 2.44
-4.1 2.44
-3.87 2.44
-3.3 2.44
3.35 2.44
3.97 2.44
-4.1 2.32
-3.87 2.32
-3.49 2.32
3.6 2.32
3.8 2.32
4.56 2.32
-5.02 2.19
-4.64 2.19
-4.38 2.19
-4.26 2.19
-3.87 2.19
-3.62 2.19
3.7 2.19
4.94 2.19
-4.77 2.07
-4.52 2.07
-4.26 2.07
-4.0 2.07
3.9 2.07
4.1 2.07
5.07 2.07
-4.64 1.95
-4.0 1.95
4.05 1.95
4.48 1.95
5.37 1.95
-5.54 1.83
-5.02 1.83
-4.64 1.83
-4.38 1.83
-4.26 1.83
4.15 1.83
4.35 1.83
4.6 1.83
4.73 1.83
-5.54 1.7
-4.64 1.7
-4.1 1.7
4.35 1.7
-6.31 1.58
-4.64 1.58
-4.2 1.58
4.22 1.58
4.48 1.58
-4.52 1.46
4.5 1.46
4.73 1.46
5.11 1.46
5.37 1.46
-5.02 1.33
-4.77 1.33
-4.52 1.33
4.6 1.33
4.86 1.33
-5.4 1.22
-5.02 1.22
-4.77 1.22
-4.52 1.22
4.6 1.22
5.11 1.22
-5.4 1.1
4.6 1.1
4.73 1.1
5.24 1.1
5.62 1.1
-5.4 .98
-4.77 .98
4.6 .98
4.85 .98
5.0 .98
-5.93 .85
-5.68 .85
-5.54 .85
-5.02 .85
4.73 .85
5.0 .85
5.5 .85
5.76 .85
-5.8 .73
-5.4 .73
-4.65 .73
4.73 .73
4.9 .73
5.5 .73
-4.77 .60
4.75 .60
5.5 .60
-5.4 .48
-5.02 .48
-4.8 .48
4.8 .48
5.24 .48
5.76 .48
5.9 .48
4.7 .35
5.11 .35
-5.15 .22
-4.85 .22
4.85 .22
-6.05 .10
-5.68 .10
-5.54 .10
-4.75 .10
4.95 .10
5.11 .10
5.37 .10
5.62 .10
-5.28 -.02
-5.15 -.02
-4.95 -.02
4.9 -.02
-5.54 -.14
-5.02 -.14
-4.75 -.14
4.8 -.14
5.37 -.14
-5.93 -.27
-5.68 -.27
-5.4 -.27
-5.15 -.27
-4.8 -.27
5.11 -.27
4.86 -.39
4.9 -.39
5.5 -.39
-5.4 -.52
-5.02 -.52
-4.85 -.52
5.76 -.52
-5.54 -.64
-4.9 -.64
-4.7 -.64
4.8 -.64
5.11 -.64
4.7 -.76
5.11 -.76
5.37 -.76
-4.7 -.88
4.65 -.88
-5.93 -1.01
-5.28 -1.01
-5.15 -1.01
-5.02 -1.01
-4.9 -1.01
4.99 -1.01
-5.68 -1.13
-5.4 -1.13
4.6 -1.13
-5.28 -1.26
4.86 -1.26
5.37 -1.26
-5.02 -1.38
-4.55 -1.38
-5.93 -1.50
-5.54 -1.50
-5.28 -1.50
4.47 -1.50
4.6 -1.50
-5.68 -1.62
-5.15 -1.62
-4.35 -1.62
4.86 -1.62
-5.28 -1.75
-5.15 -1.75
4.35 -1.75
4.47 -1.75
-5.02 -1.87
-5.02 -2.0
-4.1 -2.0
3.95 -2.0
4.47 -2.0
-5.15 -2.12
-4.9 -2.12
4.47 -2.12
3.7 -2.25
4.6 -2.3
3.55 -2.37
4.09 -2.43
-4.75 -2.55
-4.25 -2.55
3.32 -2.55
-4.63 -2.67
-4.37 -2.67
-4.12 -2.67
-3.87 -2.67
3.96 -2.67
3.07 -2.79
3.32 -2.79
4.6 -2.79
5.37 -2.79
-4.25 -2.92
-3.37 -2.92
-2.95 -2.87
2.75 -2.87
-4.63 -3.04
-3.87 -3.04
-2.55 -3.0
2.6 -3.0
3.2 -3.04
4.22 -3.04
-3.87 -3.16
-3.74 -3.16
-3.6 -3.16
-2.45 -3.12
2.45 -3.12
2.94 -3.16
-3.1 -3.28
-2.15 -3.25
2.0 -3.25
3.84 -3.28
-3.23 -3.41
-1.9 -3.37
-1.45 -3.37
-1.0 -3.37
-.6 -3.37
-.25 -3.37
.2 -3.37
.6 -3.37
1.0 -3.37
1.35 -3.37
1.75 -3.37
2.2 -3.41
-3.23 -3.54
-2.97 -3.54
-2.1 -3.5
-1.6 -3.5
-1.1 -3.5
-.7 -3.5
-.3 -3.5
.1 -3.5
.5 -3.5
.9 -3.5
1.3 -3.5
1.6 -3.5
2.56 -3.54
2.81 -3.54
3.2 -3.54
-3.87 -3.67
-3.74 -3.67
-2.85 -3.67
-1.7 -3.62
-1.3 -3.62
-.8 -3.62
-.35 -3.62
.25 -3.62
.8 -3.62
1.15 -3.62
1.5 -3.62
2.94 -3.67
3.58 -3.67
-4.25 -3.79
-2.72 -3.79
-2.6 -3.79
-2.2 -3.79
-1.43 -3.79
-.9 -3.75
-.8 -3.79
-.3 -3.75
-.15 -3.79
.3 -3.75
.9 -3.75
1.14 -3.79
1.27 -3.79
1.78 -3.79
1.91 -3.79
2.42 -3.79
-4.12 -3.91
-3.6 -3.91
-2.47 -3.91
-1.69 -3.91
-1.18 -3.91
-.09 -3.91
1.53 -3.91
-2.6 -4.04
-2.2 -4.04
-1.18 -4.04
-.92 -4.04
.1 -4.04
3.62 -4.04
3.72 -4.04
-4.75 -4.16
-1.81 -4.16
-1.56 -4.16
-1.43 -4.16
-1.31 -4.16
.23 -4.16
1.4 -4.16
1.66 -4.16
-2.72 -4.29
-2.08 -4.29
-1.31 -4.29
-.41 -4.29
-.15 -4.29
.61 -4.29
1.91 -4.29
-1.95 -4.41
-1.43 -4.41
-.54 -4.41
-.15 -4.41
.23 -4.41
.61 -4.41
1.01 -4.41
1.27 -4.41
.61 -4.53
-3.37 -4.65
-2.98 -4.65
-2.72 -4.65
-2.6 -4.65
-1.05 -4.65
1.27 -4.65
-2.72 -4.77
-.79 -4.77
.76 -4.77
.89 -4.77
1.66 -4.77
-1.69 -5.03
-1.05 -5.03
-.54 -5.03
-.41 -5.03
2.03 -5.03
-1.81 -5.15
-1.31 -5.15
.76 -5.15
.89 -5.15
-1.94 -5.4
1.66 -5.4
-2.58 -5.53
2.16 -5.9
}\spech

\begin{document}
\begin{tikzpicture}
\path[use as bounding box] (0,0) rectangle (1176pt,378pt);
\node[font=\fontsize{20.1}{24}\selectfont\itshape] at (588.5pt,359pt) {EVMH center (green box)};

\begin{axis}[panel, cbar, at={(70.32pt,52.56pt)}, anchor=south west, point meta max=2.18,
  xlabel={\vpar}, ylabel={\vperp{1}}]
\bodyplot{\tabf}
\addplot[speck] table {\specf};
\tagbox{(f)}{.115}{29pt}
\end{axis}

\begin{axis}[panel, cbar, at={(458.16pt,52.56pt)}, anchor=south west, point meta max=2.34,
  xlabel={\vpar}, ylabel={\vperp{2}}]
\bodyplot{\tabg}
\addplot[speck] table {\specg};
\tagbox{(g)}{.133}{33pt}
\end{axis}

\begin{axis}[panel, cbar, at={(845.76pt,52.56pt)}, anchor=south west, point meta max=2.254,
  xlabel={\vperp{1}}, ylabel={\vperp{2}}]
\bodyplot{\tabh}
\addplot[speck] table {\spech};
\tagbox{(h)}{.124}{33pt}
\end{axis}
\end{tikzpicture}
\end{document}
